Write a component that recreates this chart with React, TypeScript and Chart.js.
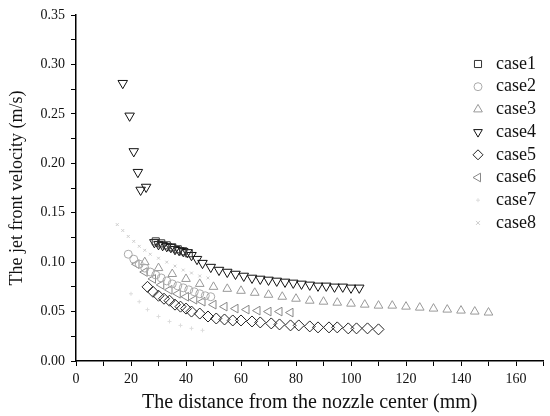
import React, { useEffect, useRef } from 'react';
import { Chart, registerables } from 'chart.js';

Chart.register(...registerables);

const caseNames = ['case1', 'case2', 'case3', 'case4', 'case5', 'case6', 'case7', 'case8'];

const case1X = [29, 31, 33, 35, 37, 39, 41];
const case1Y = [0.121, 0.119, 0.117, 0.115, 0.113, 0.111, 0.109];

const case2X = [19, 21, 23, 25, 27, 29, 31, 33, 35, 37, 39, 41, 43, 45, 47, 49];
const case2Y = [0.108, 0.103, 0.098, 0.094, 0.090, 0.087, 0.084, 0.081, 0.078, 0.076, 0.074, 0.072, 0.070, 0.068, 0.066, 0.065];

const case3X = [25, 30, 35, 40, 45, 50, 55, 60, 65, 70, 75, 80, 85, 90, 95, 100, 105, 110, 115, 120, 125, 130, 135, 140, 145, 150];
const case3Y = [0.100, 0.094, 0.088, 0.083, 0.078, 0.075, 0.073, 0.071, 0.069, 0.067, 0.065, 0.063, 0.061, 0.060, 0.059, 0.058, 0.057, 0.056, 0.056, 0.055, 0.054, 0.053, 0.052, 0.051, 0.050, 0.049];

const case4X = [17, 19.5, 21, 22.5, 23.5, 25.5, 28.5, 30, 31.5, 33, 34.5, 36, 37.5, 39, 40.5, 42, 44, 46, 49, 52, 55, 58, 61, 64, 67, 70, 73, 76, 79, 82, 85, 88, 91, 94, 97, 100, 103];
const case4Y = [0.281, 0.248, 0.212, 0.191, 0.173, 0.176, 0.120, 0.118, 0.117, 0.116, 0.115, 0.113, 0.112, 0.111, 0.110, 0.107, 0.103, 0.099, 0.095, 0.092, 0.090, 0.088, 0.086, 0.084, 0.083, 0.082, 0.081, 0.080, 0.079, 0.078, 0.077, 0.076, 0.076, 0.075, 0.075, 0.074, 0.074];

const case5X = [26, 28, 30, 32, 34, 36, 38, 40, 42, 45, 48, 51, 54, 57, 60, 64, 67, 71, 74, 78, 81, 85, 88, 92, 95, 99, 102, 106, 110];
const case5Y = [0.075, 0.070, 0.066, 0.063, 0.061, 0.057, 0.055, 0.053, 0.050, 0.048, 0.045, 0.043, 0.042, 0.041, 0.041, 0.040, 0.039, 0.038, 0.037, 0.036, 0.036, 0.035, 0.034, 0.034, 0.034, 0.033, 0.033, 0.033, 0.032];

const case6X = [22, 25, 28, 31, 34, 37, 40, 43, 46, 50, 54, 58, 62, 66, 70, 74, 78];
const case6Y = [0.098, 0.090, 0.083, 0.077, 0.072, 0.068, 0.065, 0.062, 0.060, 0.057, 0.055, 0.053, 0.052, 0.051, 0.050, 0.050, 0.049];

const case7X = [20, 23, 26, 30, 34, 38, 42, 46];
const case7Y = [0.068, 0.060, 0.052, 0.045, 0.040, 0.036, 0.033, 0.031];

const case8X = [15, 17, 19, 21, 23, 25, 27, 30, 33, 36, 39, 42, 45, 48];
const case8Y = [0.138, 0.132, 0.126, 0.121, 0.116, 0.112, 0.108, 0.104, 0.100, 0.096, 0.092, 0.089, 0.086, 0.084];

const xTickLabels = ['0', '20', '40', '60', '80', '100', '120', '140', '160'];
const yTickLabels = ['0.00', '0.05', '0.10', '0.15', '0.20', '0.25', '0.30', '0.35'];

const seriesX = [case1X, case2X, case3X, case4X, case5X, case6X, case7X, case8X];
const seriesY = [case1Y, case2Y, case3Y, case4Y, case5Y, case6Y, case7Y, case8Y];
const styles: any[] = [
  { shape: 'rect', rot: 0, color: '#333', r: 5 },
  { shape: 'circle', rot: 0, color: '#aaa', r: 4 },
  { shape: 'triangle', rot: 0, color: '#999', r: 5 },
  { shape: 'triangle', rot: 180, color: '#111', r: 5.5 },
  { shape: 'rectRot', rot: 0, color: '#222', r: 5.5 },
  { shape: 'triangle', rot: -90, color: '#888', r: 5 },
  { shape: 'cross', rot: 0, color: '#ddd', r: 2 },
  { shape: 'crossRot', rot: 0, color: '#ccc', r: 2 },
];

const FONT = "'Liberation Serif', 'Times New Roman', serif";

function drawMarker(ctx: CanvasRenderingContext2D, shape: string, rot: number, r: number, x: number, y: number) {
  const rad = (rot * Math.PI) / 180;
  ctx.beginPath();
  if (shape === 'circle') {
    ctx.arc(x, y, r, 0, Math.PI * 2);
  } else if (shape === 'rect') {
    const s = r * Math.SQRT1_2;
    ctx.rect(x - s, y - s, 2 * s, 2 * s);
  } else if (shape === 'rectRot') {
    ctx.moveTo(x, y - r);
    ctx.lineTo(x + r, y);
    ctx.lineTo(x, y + r);
    ctx.lineTo(x - r, y);
    ctx.closePath();
  } else if (shape === 'triangle') {
    let a = rad;
    ctx.moveTo(x + Math.sin(a) * r, y - Math.cos(a) * r);
    a += (2 * Math.PI) / 3;
    ctx.lineTo(x + Math.sin(a) * r, y - Math.cos(a) * r);
    a += (2 * Math.PI) / 3;
    ctx.lineTo(x + Math.sin(a) * r, y - Math.cos(a) * r);
    ctx.closePath();
  } else if (shape === 'cross') {
    ctx.moveTo(x - r, y);
    ctx.lineTo(x + r, y);
    ctx.moveTo(x, y - r);
    ctx.lineTo(x, y + r);
  } else if (shape === 'crossRot') {
    ctx.moveTo(x - r, y - r);
    ctx.lineTo(x + r, y + r);
    ctx.moveTo(x + r, y - r);
    ctx.lineTo(x - r, y + r);
  }
  ctx.stroke();
}

const legendPlugin = {
  id: 'customLegend',
  afterDraw(chart: any) {
    const ctx = chart.ctx as CanvasRenderingContext2D;
    ctx.save();
    ctx.font = `18px ${FONT}`;
    ctx.textBaseline = 'middle';
    ctx.textAlign = 'left';
    caseNames.forEach((name, i) => {
      const y = 64 + i * 22.7;
      const st = styles[i];
      ctx.strokeStyle = st.color;
      ctx.lineWidth = 1;
      drawMarker(ctx, st.shape, st.rot, Math.min(st.r, 5), 478, y);
      ctx.fillStyle = '#111';
      ctx.fillText(name, 496, y);
    });
    ctx.restore();
  },
};

export default function App() {
  const ref = useRef<HTMLCanvasElement>(null);
  useEffect(() => {
    if (!ref.current) return;
    const datasets = caseNames.map((name, i) => ({
      label: name,
      data: seriesX[i].map((x, j) => ({ x, y: seriesY[i][j] })),
      showLine: false,
      pointStyle: styles[i].shape,
      rotation: styles[i].rot,
      pointRadius: styles[i].r,
      borderColor: styles[i].color,
      backgroundColor: 'rgba(0,0,0,0)',
      borderWidth: 1,
    }));
    const chart = new Chart(ref.current, {
      type: 'scatter',
      data: { datasets },
      options: {
        animation: false,
        responsive: false,
        devicePixelRatio: 1,
        layout: { padding: { top: 15, right: 3, left: 0, bottom: 0 } },
        plugins: { legend: { display: false }, tooltip: { enabled: false } },
        scales: {
          x: {
            type: 'linear',
            min: 0,
            max: 170,
            afterFit: (s: any) => { s.height = 55; },
            border: { display: true, color: '#000', width: 1.5 },
            grid: { drawOnChartArea: false, drawTicks: true, tickLength: 5, color: '#000' },
            ticks: {
              stepSize: 10,
              autoSkip: false,
              maxRotation: 0,
              padding: 5,
              color: '#111',
              font: { family: FONT, size: 14 },
              callback: (v: any) => {
                const idx = xTickLabels.indexOf(String(Math.round(Number(v))));
                return Math.round(Number(v)) % 20 === 0 && idx >= 0 ? xTickLabels[idx] : '';
              },
            },
            title: {
              display: true,
              text: 'The distance from the nozzle center (mm)',
              color: '#111',
              font: { family: FONT, size: 20 },
              padding: { top: 2, bottom: 1 },
            },
          },
          y: {
            type: 'linear',
            min: 0,
            max: 0.35,
            afterFit: (s: any) => { s.width = 76; },
            border: { display: true, color: '#000', width: 1.5 },
            grid: { drawOnChartArea: false, drawTicks: true, tickLength: 5, color: '#000' },
            ticks: {
              stepSize: 0.025,
              autoSkip: false,
              padding: 6,
              color: '#111',
              font: { family: FONT, size: 14 },
              callback: (v: any) => {
                const k = Math.round(Number(v) * 1000);
                return k % 50 === 0 ? yTickLabels[k / 50] : '';
              },
            },
            title: {
              display: true,
              text: 'The jet front velocity (m/s)',
              color: '#111',
              font: { family: FONT, size: 18 },
              padding: { top: 6, bottom: 2 },
            },
          },
        },
      },
      plugins: [legendPlugin],
    } as any);
    return () => chart.destroy();
  }, []);
  return (
    <div style={{ position: 'absolute', left: 0, top: 0, width: 550, height: 416, background: '#fff' }}>
      <canvas ref={ref} width={550} height={416} />
    </div>
  );
}
